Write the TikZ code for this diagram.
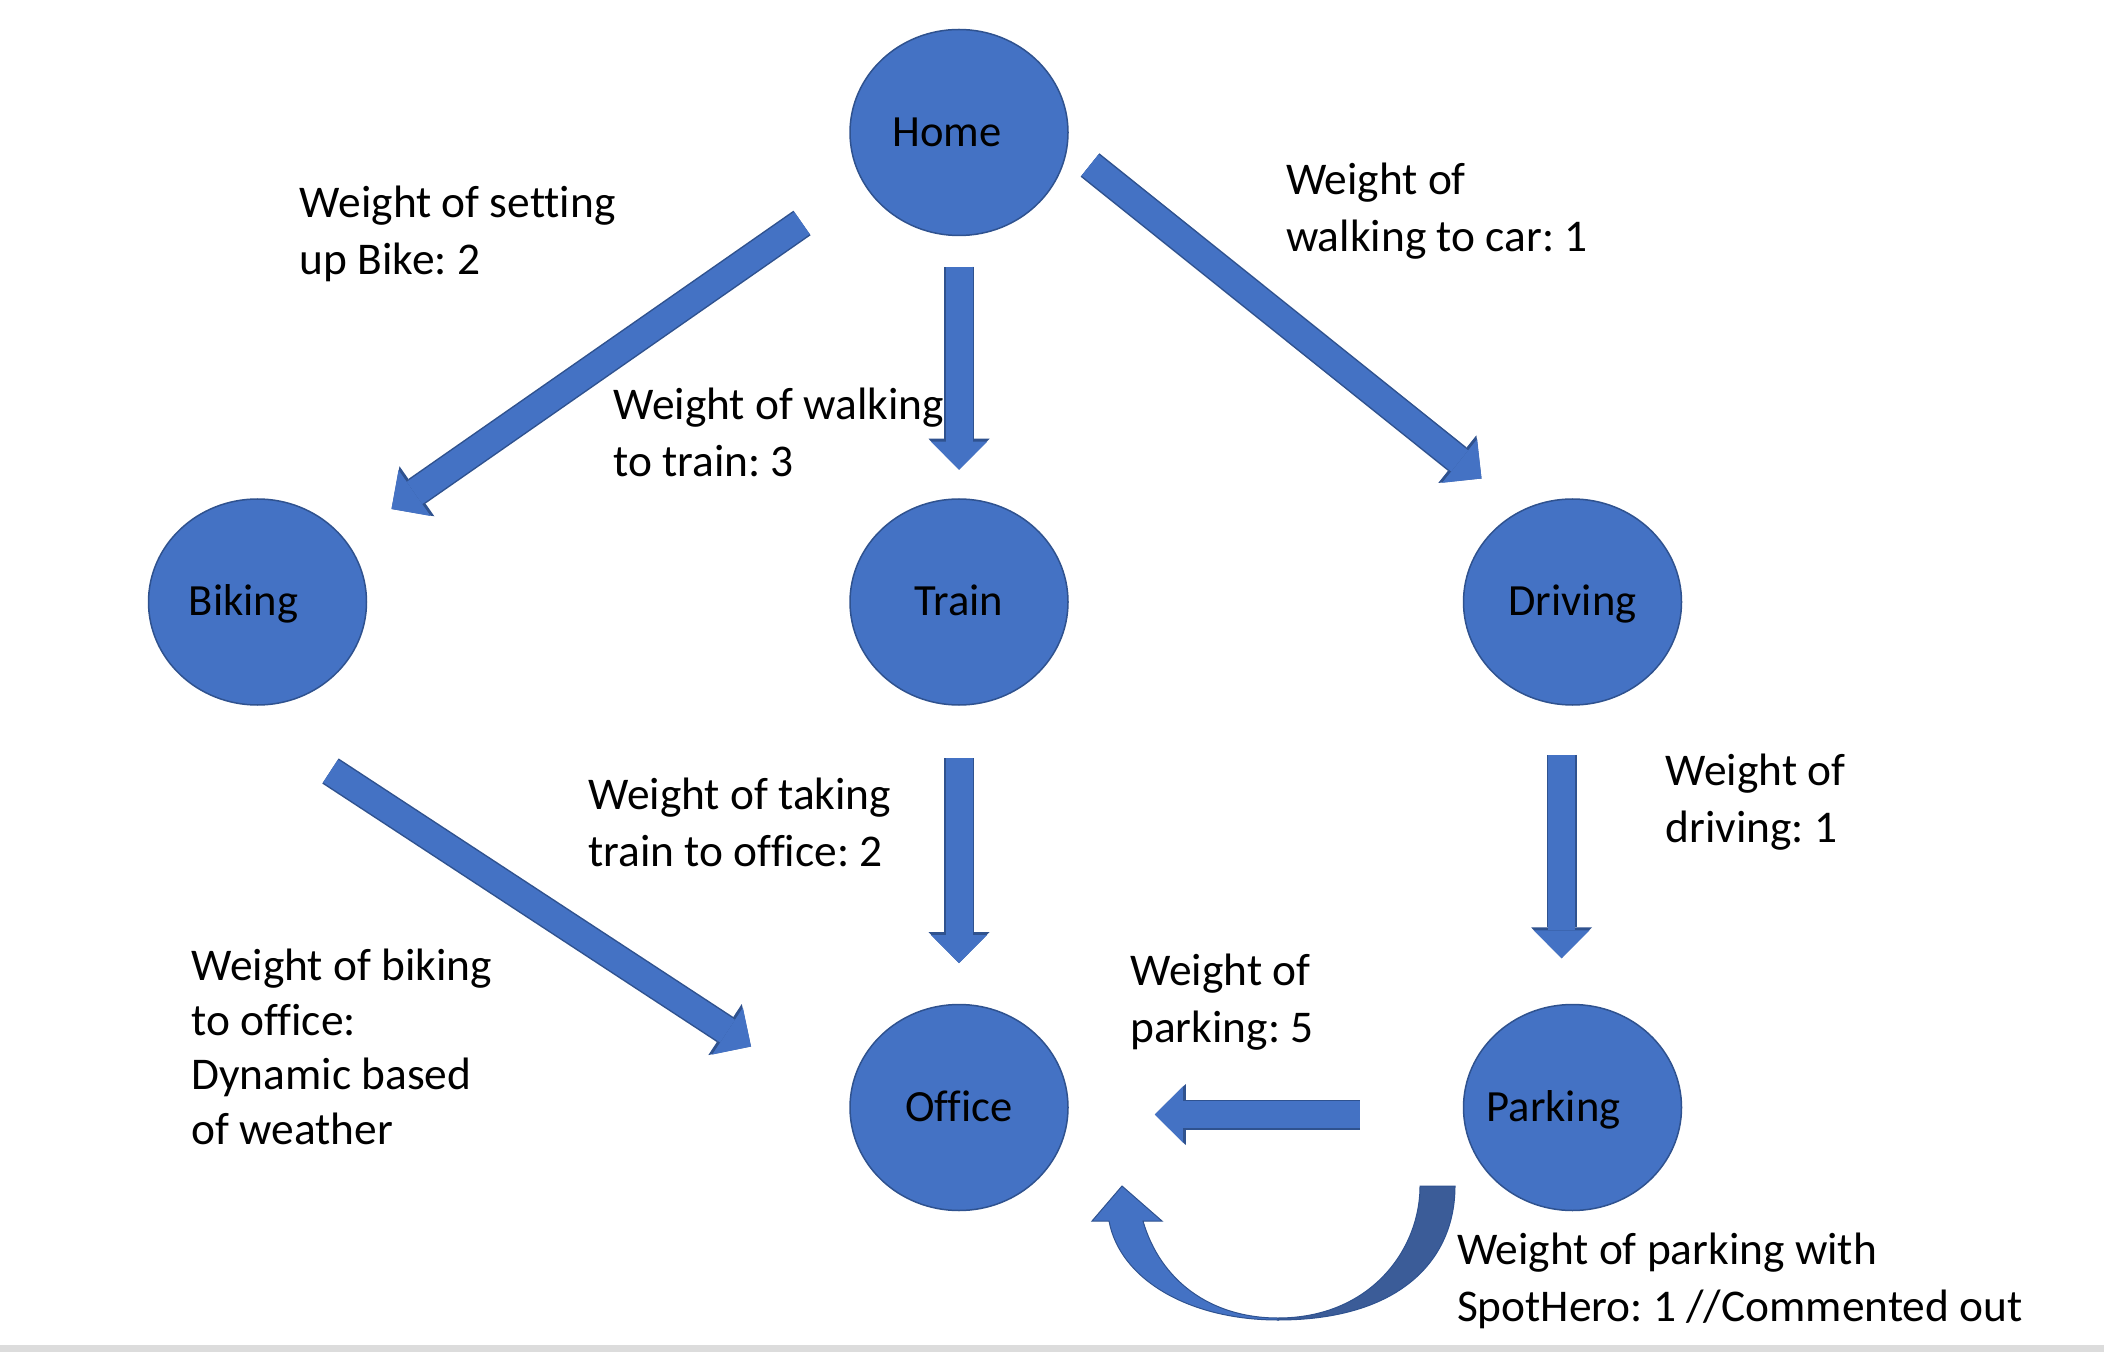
\documentclass[tikz,border=0pt]{standalone}
\usepackage{fontspec}
\setmainfont{Carlito}[Ligatures=NoCommon]
\frenchspacing
\usetikzlibrary{positioning,arrows.meta,shapes.geometric}
\definecolor{nodeblue}{HTML}{4472C4}
\definecolor{nodeline}{HTML}{2F528F}
\definecolor{curveshade}{HTML}{3B5C98}
\definecolor{stripgray}{HTML}{DCDCDC}

\begin{document}
\begin{tikzpicture}[x=1pt, y=1pt,
		place/.style={ellipse, draw=nodeline, line width=0.75pt, fill=nodeblue,
					minimum width=109pt, minimum height=103pt, inner sep=0pt,
					text height=14pt, text depth=0pt, font=\fontsize{22.3}{27}\selectfont},
		weight/.style={anchor=north west, align=left, inner sep=0pt,
					font=\fontsize{22.7}{28.3}\selectfont},
		flow/.style={line width=13.5pt, draw=nodeblue,
					-{Triangle[width=28pt, length=14pt, line width=0pt]},
					preaction={draw=nodeline, line width=15pt,
						-{Triangle[width=30.5pt, length=15.5pt, line width=0pt]}}}
	]
		\useasboundingbox (0,0) rectangle (1052,-676);
		\fill[stripgray] (0,-672.5) rectangle (1052,-676);

		\node[place] (home) at (479.5,-66.25) {\hspace*{-12pt}Home};
		\node[place, below=131pt of home] (train) {Train};
		\node[place, left=241pt of train] (biking) {\hspace*{-14pt}Biking};
		\node[place, right=197pt of train] (driving) {Driving};
		\node[place, below=149pt of train] (office) {Office};
		\node[place, right=197pt of office] (parking) {\hspace*{-19pt}Parking};

		\draw[flow, shorten <=15.25pt, shorten >=14.25pt] (home) -- (train);
		\draw[flow] ([shift={(65.5,-16.25)}]home.center) -- ([shift={(-45.5,61.75)}]driving.center);
		\draw[flow] ([shift={(-78.5,-45.25)}]home.center) -- ([shift={(67,46.5)}]biking.center);
		\draw[flow] ([shift={(36.5,-84.5)}]biking.center) -- ([shift={(-104,30.5)}]office.center);
		\draw[flow, shorten <=26.25pt, shorten >=20.3pt] (train) -- (office);
		\draw[flow, shorten <=24.5pt, shorten >=22.75pt] ([xshift=-5.5pt]driving.south) -- ([xshift=-5.5pt]parking.north);
		\draw[flow, shorten <=51.5pt, shorten >=43pt] ([yshift=-3.5pt]parking.west) -- ([yshift=-3.5pt]office.east);

		% SpotHero loop back to the office
		\filldraw[fill=nodeblue, draw=nodeline, line width=0.5pt]
			(639,-660) .. controls (595,-660) and (560,-640) .. (554.5,-610.5)
			-- (546,-610.5) -- (561,-593) -- (581,-610.5) -- (571.5,-610.5)
			.. controls (580,-640) and (605,-659) .. (639,-659) -- cycle;
		\filldraw[fill=curveshade, draw=nodeline, line width=0.5pt]
			(639,-660) .. controls (700,-660) and (727.5,-630) .. (727.5,-593)
			-- (710,-593) .. controls (710,-625) and (685,-659) .. (639,-659) -- cycle;

		\node[weight] (lblbike) at (149.75,-93) {Weight of setting\\up Bike: 2};
		\node[weight] (lblwalk) at (306.5,-194) {Weight of walking\\to train: 3};
		\node[weight] (lblcar) at (642.8,-81.5) {Weight of\\walking to car: 1};
		\node[weight] (lbltake) at (294,-389) {Weight of taking\\train to office: 2};
		\node[weight] (lbldrive) at (832.5,-377) {Weight of\\driving: 1};
		\node[weight, font=\fontsize{22.7}{27.2}\selectfont] (lblride) at (95.5,-474.5) {Weight of biking\\to office:\\Dynamic based\\of weather};
		\node[weight] (lblpark) at (565,-477) {Weight of\\parking: 5};
		\node[weight] (lblspot) at (728.3,-616.5) {Weight of parking with\\SpotHero: 1 //Commented out};
	\end{tikzpicture}
\end{document}
